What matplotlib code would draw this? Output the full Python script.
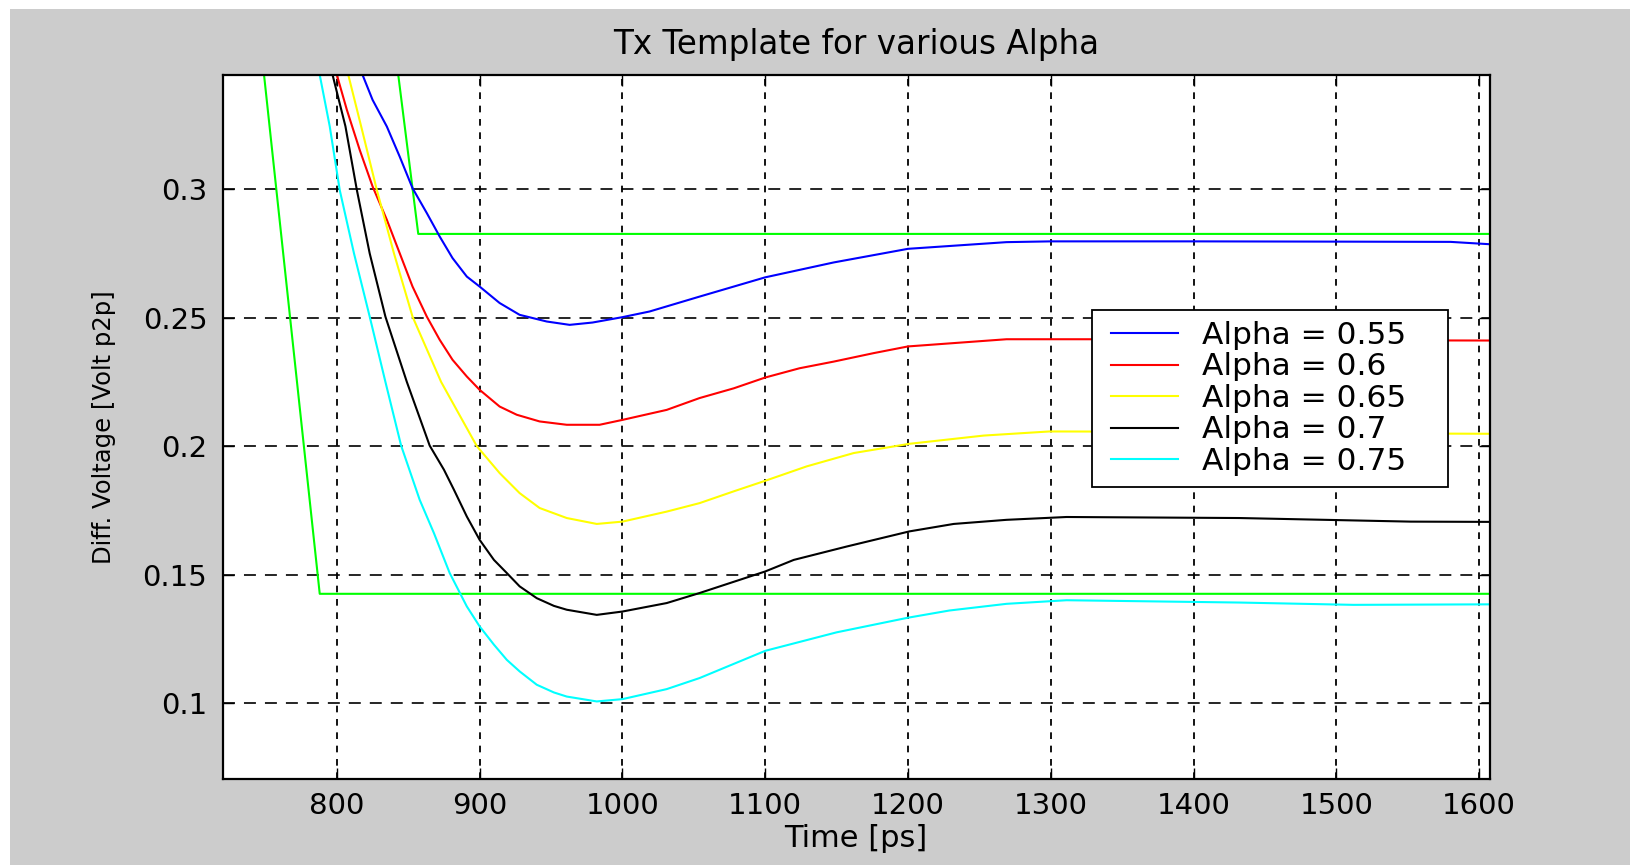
import matplotlib
matplotlib.use("Agg")
import matplotlib.pyplot as plt
from matplotlib.patches import Rectangle
from matplotlib.lines import Line2D
from matplotlib.legend_handler import HandlerLine2D

# --- data (time in ps, voltage in V p2p) ---
t_a55 = [818, 825, 835, 844, 853, 863, 872, 881, 891, 900, 914, 928, 947, 963, 979, 1000, 1019, 1054,
         1100, 1148, 1200, 1269, 1300, 1400, 1500, 1580, 1607]
v_a55 = [0.3445, 0.3348, 0.3244, 0.3127, 0.3004, 0.2907, 0.2816, 0.2732, 0.2660, 0.2621, 0.2557, 0.2511,
         0.2485, 0.2472, 0.2481, 0.2502, 0.2524, 0.2582, 0.2657, 0.2715, 0.2768, 0.2794, 0.2797, 0.2797,
         0.2796, 0.2795, 0.2786]

t_a60 = [800, 807, 816, 825, 835, 844, 853, 863, 872, 881, 891, 900, 914, 926, 942, 961, 984, 1000, 1031,
         1054, 1078, 1100, 1124, 1148, 1176, 1200, 1232, 1269, 1327, 1400, 1500, 1607]
v_a60 = [0.3445, 0.3309, 0.3153, 0.3011, 0.2881, 0.2751, 0.2621, 0.2504, 0.2414, 0.2336, 0.2271, 0.2219,
         0.2154, 0.2122, 0.2096, 0.2083, 0.2083, 0.2102, 0.2141, 0.2187, 0.2225, 0.2267, 0.2303, 0.2329,
         0.2362, 0.2388, 0.2401, 0.2416, 0.2416, 0.2414, 0.2412, 0.2411]

t_a65 = [808, 817, 828, 840, 853, 873, 898, 914, 928, 942, 961, 982, 1000, 1031, 1054, 1078, 1100, 1129,
         1162, 1201, 1253, 1299, 1400, 1500, 1607]
v_a65 = [0.3445, 0.3245, 0.2997, 0.2750, 0.2504, 0.2250, 0.2000, 0.1895, 0.1817, 0.1759, 0.1720, 0.1697,
         0.1706, 0.1745, 0.1778, 0.1824, 0.1865, 0.1921, 0.1973, 0.2009, 0.2041, 0.2057, 0.2056, 0.2050,
         0.2048]

t_a70 = [797, 806, 814, 823, 834, 849, 865, 875, 882, 891, 900, 910, 919, 928, 940, 952, 961, 982, 1000,
         1031, 1054, 1100, 1120, 1157, 1201, 1232, 1269, 1311, 1432, 1552, 1607]
v_a70 = [0.3445, 0.3245, 0.2997, 0.2750, 0.2504, 0.2250, 0.2002, 0.1908, 0.1830, 0.1726, 0.1635, 0.1557,
         0.1506, 0.1454, 0.1408, 0.1378, 0.1363, 0.1343, 0.1356, 0.1389, 0.1428, 0.1512, 0.1557, 0.1609,
         0.1668, 0.1697, 0.1713, 0.1724, 0.1720, 0.1706, 0.1705]

t_a75 = [788, 795, 802, 812, 823, 834, 845, 858, 868, 879, 891, 900, 910, 919, 928, 940, 952, 961, 982,
         1000, 1031, 1054, 1100, 1150, 1200, 1229, 1269, 1311, 1432, 1512, 1607]
v_a75 = [0.3445, 0.3245, 0.2997, 0.2750, 0.2504, 0.2250, 0.2002, 0.1791, 0.1661, 0.1506, 0.1376, 0.1298,
         0.1227, 0.1168, 0.1123, 0.1071, 0.1041, 0.1025, 0.1006, 0.1015, 0.1054, 0.1097, 0.1203, 0.1275,
         0.1332, 0.1360, 0.1386, 0.1400, 0.1391, 0.1382, 0.1384]

# template limits (green)
t_upper = [843, 857, 1607]
v_upper = [0.3445, 0.2826, 0.2826]
t_lower = [749, 788, 1607]
v_lower = [0.3445, 0.1425, 0.1425]

labels = ["Alpha = 0.55", "Alpha = 0.6", "Alpha = 0.65", "Alpha = 0.7", "Alpha = 0.75"]
colors = ["#0000ff", "#ff0000", "#ffff00", "#000000", "#00ffff"]

x_ticks = [800, 900, 1000, 1100, 1200, 1300, 1400, 1500, 1600]
y_ticks = [0.1, 0.15, 0.2, 0.25, 0.3]
y_ticklabels = ["0.1", "0.15", "0.2", "0.25", "0.3"]

plt.rcParams["lines.scale_dashes"] = False

fig = plt.figure(figsize=(16.31, 8.65), dpi=100, facecolor="white")
# matlab grey figure background (thin white strip top/left)
fig.patches.append(Rectangle((10 / 1631, 0), 1, 1 - 9 / 865, transform=fig.transFigure,
                             facecolor="#cccccc", edgecolor="none", zorder=-10))

ax = fig.add_axes([0.1365, 0.0994, 0.7768, 0.8140])
ax.set_facecolor("white")

ax.plot(t_upper, v_upper, color="#00ff00", linewidth=1.5)
ax.plot(t_lower, v_lower, color="#00ff00", linewidth=1.5)

series = [(t_a55, v_a55), (t_a60, v_a60), (t_a65, v_a65), (t_a70, v_a70), (t_a75, v_a75)]
for (t, v), lab, c in zip(series, labels, colors):
    ax.plot(t, v, color=c, linewidth=1.5, label=lab)

ax.set_xlim(720, 1607.3)
ax.set_ylim(0.0704, 0.3445)
ax.set_xticks(x_ticks)
ax.set_yticks(y_ticks)
ax.set_yticklabels(y_ticklabels)

ax.tick_params(direction="in", top=True, right=True, length=8, width=1,
               labelsize=21, pad=9)
ax.tick_params(axis="y", pad=11)

ax.grid(axis="x", color="black", linewidth=1.3, linestyle=(0, (4.8, 4.8)))
ax.grid(axis="y", color="black", linewidth=1.2, linestyle=(0, (8.6, 6.5)))

for s in ax.spines.values():
    s.set_linewidth(1.6)
    s.set_color("black")

ax.set_title("Tx Template for various Alpha", fontsize=23.5, pad=15)
ax.set_xlabel("Time [ps]", fontsize=22, labelpad=3)
ax.set_ylabel("Diff. Voltage [Volt p2p]", fontsize=17.5, labelpad=19)

leg = ax.legend(loc="upper left", bbox_to_anchor=(0.6864, 0.0, 0.2810, 0.6661), mode="expand",
                borderaxespad=0, fontsize=22.5, labelspacing=0.08, borderpad=0.35,
                handlelength=2.4, handletextpad=0.75, fancybox=False, framealpha=1,
                handler_map={Line2D: HandlerLine2D(xpad=0.26)})
leg.get_frame().set_edgecolor("black")
leg.get_frame().set_linewidth(1.3)

plt.savefig("out.png", dpi=100, facecolor=fig.get_facecolor())
